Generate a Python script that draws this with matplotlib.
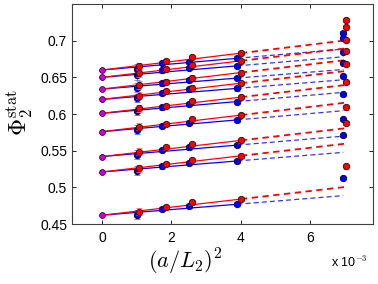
import matplotlib
matplotlib.use("Agg")
import matplotlib.pyplot as plt
from matplotlib.ticker import FuncFormatter

plt.rcParams['font.family'] = ['Liberation Sans', 'DejaVu Sans']
plt.rcParams['mathtext.fontset'] = 'cm'

# x positions in units of 1e-3
x_blue = [0.99, 1.73, 2.51, 3.91, 6.97]
x_red = [1.07, 1.83, 2.59, 4.01, 7.04]

# continuum values at x = 0
cont = [0.660, 0.650, 0.634, 0.620, 0.601, 0.576, 0.542, 0.521, 0.462]
cont_err = 0.003

blue_vals = [
    [0.662, 0.6693, 0.671, 0.676, 0.711],
    [0.653, 0.6595, 0.6625, 0.6657, 0.703],
    [0.636, 0.6416, 0.6462, 0.649, 0.685],
    [0.6217, 0.6286, 0.6339, 0.635, 0.670],
    [0.604, 0.6091, 0.6135, 0.617, 0.6516],
    [0.5785, 0.584, 0.5884, 0.592, 0.627],
    [0.5444, 0.5508, 0.5544, 0.5576, 0.593],
    [0.5226, 0.5285, 0.5331, 0.536, 0.571],
    [0.4627, 0.4704, 0.4749, 0.477, 0.5127],
]
red_vals = [
    [0.665, 0.672, 0.6775, 0.683, 0.728],
    [0.6557, 0.6612, 0.6666, 0.6725, 0.718],
    [0.6394, 0.6443, 0.6497, 0.6565, 0.701],
    [0.6248, 0.6307, 0.6361, 0.642, 0.686],
    [0.6075, 0.6112, 0.618, 0.623, 0.668],
    [0.5826, 0.5866, 0.593, 0.5985, 0.6435],
    [0.5485, 0.5544, 0.559, 0.564, 0.609],
    [0.5257, 0.5317, 0.5372, 0.543, 0.5876],
    [0.4668, 0.4732, 0.4794, 0.484, 0.5285],
]
blue_err = [0.006, 0.003, 0.003, 0.003, 0.002]
red_err = [0.005, 0.003, 0.003, 0.003, 0.003]

# fit lines: value at end of solid part and at end of dashed part
red_fit_mid = [0.683, 0.6725, 0.6565, 0.642, 0.623, 0.5985, 0.564, 0.543, 0.484]
red_fit_end = [0.7004, 0.6895, 0.6735, 0.6586, 0.6396, 0.6155, 0.5806, 0.5596, 0.5006]
blue_fit_mid = [0.676, 0.6657, 0.649, 0.635, 0.617, 0.592, 0.5576, 0.536, 0.477]
blue_fit_end = [0.6885, 0.678, 0.6607, 0.6467, 0.6295, 0.6045, 0.5698, 0.5477, 0.4887]

fig = plt.figure(figsize=(3.78, 2.84), dpi=100)
ax = fig.add_axes([72/378, 1-224/284, 301/378, 220/284])

for i in range(len(cont)):
    ax.plot([0, x_blue[3]], [cont[i], blue_fit_mid[i]], color='b', lw=0.9, zorder=2)
    ax.plot([x_blue[3], x_blue[4]], [blue_fit_mid[i], blue_fit_end[i]], color='b',
            lw=0.9, dashes=(4, 2.5), alpha=0.8, zorder=2)
    ax.plot([0, x_red[3]], [cont[i], red_fit_mid[i]], color='r', lw=0.9, zorder=2)
    ax.plot([x_red[3], x_red[4]], [red_fit_mid[i], red_fit_end[i]], color='r',
            lw=1.3, dashes=(3.5, 2.5), zorder=2)

for i in range(len(cont)):
    ax.errorbar(x_blue, blue_vals[i], yerr=blue_err, fmt='o', ms=4.6, mfc='b', mec='#000040',
                mew=0.6, ecolor=(0.4, 0.4, 1.0), elinewidth=0.8, capsize=2, zorder=3)
    ax.errorbar(x_red, red_vals[i], yerr=red_err, fmt='o', ms=4.6, mfc='r', mec='#400000',
                mew=0.6, ecolor=(1.0, 0.45, 0.45), elinewidth=0.8, capsize=2, zorder=4)
    ax.errorbar([0], [cont[i]], yerr=cont_err, fmt='o', ms=4.2, mfc=(0.8, 0, 0.85), mec='#400040',
                mew=0.6, ecolor='m', elinewidth=0.8, capsize=1, zorder=5)

ax.set_xlim(-0.876, 7.83)
ax.set_ylim(0.45, 0.75)
ax.set_xticks([0, 2, 4, 6])
ax.set_yticks([0.45, 0.5, 0.55, 0.6, 0.65, 0.7])
ax.yaxis.set_major_formatter(FuncFormatter(lambda v, p: '%g' % v))
ax.tick_params(direction='in', top=True, right=True, length=3, labelsize=10, width=0.6)
ax.tick_params(axis='x', pad=5)
for s in ax.spines.values():
    s.set_color('#404040')
    s.set_linewidth(0.8)

fig.text(185/378, 1-262/284, r'$(a/L_2)^2$', fontsize=16, ha='center', va='center')
fig.text(20/378, 1-113/284, r'$\Phi_2^{\rm stat}$', fontsize=17, rotation=90,
         ha='center', va='center')
fig.text(331/378, 1-262/284, r'x 10$^{-3}$', fontsize=9, ha='left', va='center')

fig.savefig('out.png', dpi=100)
